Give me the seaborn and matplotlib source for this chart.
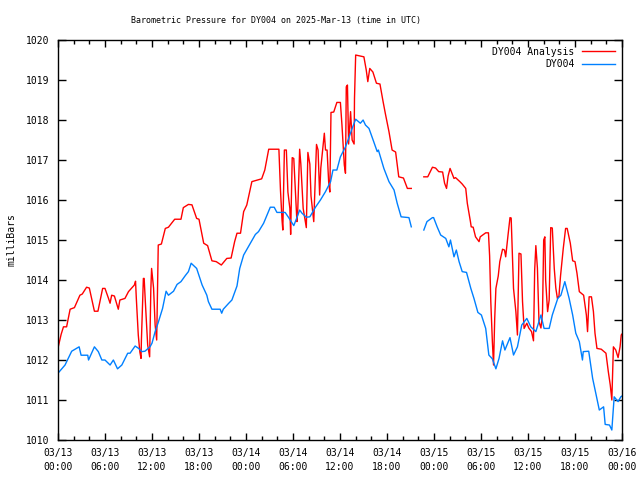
import numpy as np
import pandas as pd
import seaborn as sb
import matplotlib.pyplot as plt
import matplotlib.dates as mdates

# horas desde 2025-03-13 00:00 UTC, pressao em milliBars (nan = falha nos dados)
horas_obs = [0, 0.9, 1.75, 2.7, 2.95, 3.8, 3.9, 4.65, 5.15, 5.6, 6.0, 6.65, 7.07, 7.6, 8.15,
             8.9, 9.2, 9.85, 10.3, 10.7, 11.1, 11.75, 12.0, 12.4, 12.8, 13.35, 13.8, 14.1,
             14.75, 15.2, 15.7, 16.25, 16.65, 17.0, 17.7, 18.4, 19.0, 19.2, 19.65, 20.7,
             20.9, 21.1, 21.8, 22.2, 22.85, 23.2, 23.7, 24.5, 25.2, 25.6, 26.25, 27.1, 27.6,
             27.95, 29.0, 29.45, 30.1, 30.5, 30.85, 31.15, 31.7, 32.15, 32.9, 33.5, 34.15,
             34.8, 35.1, 35.6, 36.05, 36.7, 37.1, 37.55, 38.0, 38.6, 38.95, 39.25, 39.7,
             40.3, 40.75, 40.9, 41.6, 42.25, 42.9, 43.3, 43.8, 44.8, 45.1, 45.9,
             46.7, 47.1, 47.8, 47.95, 48.4, 48.85, 49.5, 49.9, 50.1, 50.55, 50.85, 51.2,
             51.6, 52.15, 52.7, 53.1, 53.6, 54.05, 54.6, 55.0, 55.45, 55.9, 56.3, 56.75,
             57.05, 57.7, 58.15, 58.65, 59.2, 59.85, 60.35, 61.0, 61.65, 62.05, 62.7, 63.1,
             63.8, 64.2, 64.7, 65.25, 65.7, 66.1, 66.55, 66.95, 67.05, 67.75, 68.25, 68.7,
             69.1, 69.65, 69.85, 70.4, 70.7, 71.0, 71.5, 71.85, 72.0]
press_obs = [1011.67, 1011.875, 1012.22, 1012.33, 1012.12, 1012.12, 1012.0, 1012.33, 1012.21,
             1012.0, 1012.0, 1011.875, 1012.0, 1011.78, 1011.875, 1012.17, 1012.17, 1012.35,
             1012.29, 1012.21, 1012.22, 1012.33, 1012.42, 1012.71, 1012.94, 1013.29, 1013.72,
             1013.62, 1013.72, 1013.89, 1013.96, 1014.11, 1014.21, 1014.42, 1014.29, 1013.875,
             1013.62, 1013.46, 1013.27, 1013.27, 1013.17, 1013.27, 1013.42, 1013.5, 1013.85,
             1014.29, 1014.625, 1014.9, 1015.14, 1015.21, 1015.42, 1015.82, 1015.82, 1015.69,
             1015.69, 1015.56, 1015.36, 1015.56, 1015.75, 1015.67, 1015.57, 1015.58, 1015.83,
             1016.0, 1016.21, 1016.46, 1016.75, 1016.75, 1017.08, 1017.33, 1017.54, 1017.79,
             1018.02, 1017.92, 1018.0, 1017.875, 1017.79, 1017.46, 1017.21, 1017.25, 1016.79,
             1016.46, 1016.25, 1015.92, 1015.58, 1015.56, 1015.33, np.nan,
             1015.25, 1015.46, 1015.56, 1015.56, 1015.33, 1015.125, 1015.04, 1014.83, 1015.0,
             1014.58, 1014.75, 1014.46, 1014.21, 1014.19, 1013.79, 1013.54, 1013.19, 1013.125,
             1012.79, 1012.125, 1012.03, 1011.78, 1012.04, 1012.48, 1012.25, 1012.56, 1012.125,
             1012.33, 1012.875, 1013.04, 1012.83, 1012.71, 1013.125, 1012.79, 1012.79,
             1013.125, 1013.54, 1013.62, 1013.96, 1013.54, 1013.125, 1012.67, 1012.46, 1012.0,
             1012.21, 1012.22, 1011.54, 1011.125, 1010.75, 1010.83, 1010.39, 1010.375, 1010.25,
             1011.08, 1010.96, 1011.08, 1011.1]

horas_ana = [0, 0.4, 0.7, 1.1, 1.55, 2.1, 2.8, 3.1, 3.65, 4.0, 4.65, 5.1, 5.7, 6.0, 6.45, 6.65,
             6.85, 7.2, 7.7, 7.9, 8.55, 9.0, 9.75, 9.9, 10.0, 10.25, 10.45, 10.6, 10.65, 10.9,
             11.0, 11.15, 11.45, 11.7, 11.85, 11.95, 12.2, 12.4, 12.6, 12.8, 13.2, 13.7, 14.1,
             14.9, 15.7, 16.0, 16.65, 17.1, 17.7, 18.0, 18.6, 19.1, 19.65, 20.2, 20.85, 21.55,
             22.1, 22.55, 22.85, 23.3, 23.7, 24.1, 24.75, 26.0, 26.4, 26.9, 28.2, 28.4, 28.6,
             28.7, 28.9, 29.15, 29.35, 29.6, 29.7, 29.9, 30.1, 30.3, 30.5, 30.6, 30.85, 31.0,
             31.3, 31.7, 31.9, 32.15, 32.3, 32.65, 33.0, 33.2, 33.4, 33.55, 34.0, 34.15, 34.35,
             34.55, 34.7, 34.85, 35.2, 35.6, 36.05, 36.25, 36.55, 36.7, 36.8, 36.95, 37.1,
             37.35, 37.55, 37.8, 37.85, 38.0, 39.05, 39.35, 39.55, 39.8, 40.2, 40.65, 41.1,
             41.5, 41.8, 42.25, 42.65, 43.1, 43.5, 44.1, 44.6, 45.1, 45.9,
             46.7, 47.2, 47.8, 48.2, 48.6, 49.1, 49.35, 49.6, 49.8, 50.05, 50.55, 50.75, 51.3,
             51.6, 52.05, 52.25, 52.65, 52.75, 53.0, 53.3, 53.75, 53.9, 54.6, 54.95, 55.1,
             55.25, 55.45, 55.6, 55.75, 55.9, 56.2, 56.4, 56.75, 57.0, 57.15, 57.45, 57.7,
             57.85, 58.15, 58.45, 58.65, 58.85, 59.1, 59.3, 59.5, 59.85, 60.1, 60.45, 60.7,
             60.85, 61.0, 61.2, 61.4, 61.65, 61.85, 62.0, 62.15, 62.25, 62.5, 62.7, 62.9, 63.1,
             63.35, 63.55, 63.75, 63.95, 64.15, 64.5, 64.8, 65.0, 65.4, 65.7, 66.0, 66.25,
             66.55, 67.1, 67.45, 67.6, 67.8, 68.1, 68.35, 68.55, 68.8, 69.35, 69.95, 70.25,
             70.5, 70.7, 70.9, 71.2, 71.5, 71.75, 71.9, 72.0]
press_ana = [1012.3, 1012.64, 1012.83, 1012.83, 1013.27, 1013.31, 1013.62, 1013.65, 1013.82,
             1013.8, 1013.22, 1013.22, 1013.79, 1013.79, 1013.54, 1013.42, 1013.62, 1013.6,
             1013.27, 1013.5, 1013.54, 1013.71, 1013.875, 1013.97, 1013.54, 1012.625, 1012.2,
             1012.04, 1012.5, 1014.04, 1014.04, 1013.46, 1012.375, 1012.08, 1013.75, 1014.29,
             1013.8, 1012.875, 1012.5, 1014.875, 1014.9, 1015.29, 1015.32, 1015.52, 1015.52,
             1015.81, 1015.89, 1015.88, 1015.54, 1015.52, 1014.92, 1014.86, 1014.48, 1014.46,
             1014.375, 1014.54, 1014.55, 1014.96, 1015.17, 1015.17, 1015.71, 1015.875, 1016.46,
             1016.53, 1016.75, 1017.27, 1017.27, 1016.25, 1015.5, 1015.25, 1017.25, 1017.25,
             1016.2, 1015.79, 1015.14, 1017.06, 1017.04, 1016.25, 1015.46, 1015.7, 1017.27,
             1016.9, 1015.79, 1015.31, 1017.19, 1016.9, 1016.1, 1015.46, 1017.39, 1017.25,
             1016.125, 1016.8, 1017.67, 1017.25, 1017.25, 1016.46, 1016.2, 1018.19, 1018.2,
             1018.44, 1018.44, 1017.875, 1016.875, 1016.67, 1018.83, 1018.875, 1017.4, 1018.21,
             1017.5, 1017.4, 1018.54, 1019.625, 1019.58, 1019.25, 1018.96, 1019.29, 1019.2,
             1018.92, 1018.9, 1018.46, 1018.15, 1017.71, 1017.25, 1017.2, 1016.58, 1016.55,
             1016.29, 1016.29, np.nan,
             1016.58, 1016.58, 1016.82, 1016.8, 1016.71, 1016.7, 1016.42, 1016.29, 1016.6,
             1016.79, 1016.54, 1016.56, 1016.46, 1016.4, 1016.29, 1015.92, 1015.46, 1015.33,
             1015.32, 1015.08, 1014.96, 1015.08, 1015.18, 1015.18, 1014.6, 1013.46, 1012.46,
             1011.875, 1013.04, 1013.79, 1014.1, 1014.46, 1014.77, 1014.75, 1014.58, 1015.125,
             1015.56, 1015.55, 1013.79, 1013.21, 1012.625, 1014.67, 1014.65, 1013.46, 1012.79,
             1012.92, 1012.8, 1012.71, 1012.48, 1014.25, 1014.86, 1014.3, 1012.96, 1012.8,
             1013.17, 1015.0, 1015.08, 1014.0, 1013.21, 1013.5, 1015.31, 1015.3, 1014.29,
             1013.8, 1013.54, 1013.6, 1014.1, 1014.79, 1015.29, 1015.29, 1014.92, 1014.48,
             1014.46, 1014.17, 1013.71, 1013.62, 1013.125, 1012.71, 1013.58, 1013.58, 1013.21,
             1012.67, 1012.29, 1012.27, 1012.17, 1011.71, 1011.375, 1011.0, 1012.33, 1012.25,
             1012.06, 1012.33, 1012.625, 1012.65]

inicio = pd.Timestamp("2025-03-13 00:00")
fonte = "DejaVu Sans Mono"


def monta_df(horas, press, nome):
    df = pd.DataFrame({"hora": horas, "mb": press})
    # cada trecho sem dados vira um novo segmento, para a linha nao ligar a falha
    df["seg"] = df["mb"].isna().cumsum()
    df = df.dropna()
    df["tempo"] = inicio + pd.to_timedelta(df["hora"], unit="h")
    df["serie"] = nome
    return df


df = pd.concat([monta_df(horas_ana, press_ana, "DY004 Analysis"),
                monta_df(horas_obs, press_obs, "DY004")])

fig = plt.figure(figsize=(6.4, 4.8), dpi=100)
ax = fig.add_axes([0.0906, 0.0833, 0.8813, 0.8333])

sb.lineplot(data=df, x="tempo", y="mb", hue="serie", units="seg", estimator=None,
            hue_order=["DY004 Analysis", "DY004"],
            palette={"DY004 Analysis": "#ff0000", "DY004": "#0080ff"},
            linewidth=1, ax=ax)

ax.set_xlim(inicio, inicio + pd.Timedelta(hours=72))
ax.set_ylim(1010, 1020)
ax.set_yticks(range(1010, 1021))

ax.xaxis.set_major_locator(mdates.HourLocator(byhour=[0, 6, 12, 18]))
ax.xaxis.set_minor_locator(mdates.HourLocator(byhour=range(0, 24, 2)))
ax.xaxis.set_major_formatter(mdates.DateFormatter("%m/%d\n%H:%M"))

ax.tick_params(which="both", direction="in", top=True, right=True, colors="black",
               labelsize=7, width=1)
ax.tick_params(axis="x", which="major", length=5, pad=6)
ax.tick_params(axis="x", which="minor", length=3)
ax.tick_params(axis="y", which="major", length=6, pad=6)
for lab in ax.get_xticklabels() + ax.get_yticklabels():
    lab.set_family(fonte)
    lab.set_linespacing(1.5)

for s in ax.spines.values():
    s.set_color("black")
    s.set_linewidth(1)

ax.set_xlabel("")
ax.set_ylabel("milliBars", family=fonte, fontsize=7, labelpad=7)
fig.text(0.431, 0.958, "Barometric Pressure for DY004 on 2025-Mar-13 (time in UTC)",
         ha="center", va="center", family=fonte, fontsize=6.0)

handles, labels = ax.get_legend_handles_labels()
ax.legend(handles, labels, loc="upper right", frameon=False, markerfirst=False,
          handlelength=3.4, handletextpad=0.8, labelspacing=0.25,
          borderaxespad=0.3, prop={"family": fonte, "size": 7})

fig.savefig("out.png", dpi=100)
